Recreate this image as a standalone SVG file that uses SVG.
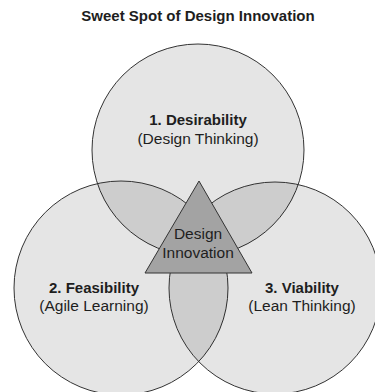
<svg xmlns="http://www.w3.org/2000/svg" width="375" height="392" viewBox="0 0 375 392">
  <style>
    .circle { fill: #000; fill-opacity: 0.1; stroke: #333; stroke-width: 1; }
    .label { font-family: "Liberation Sans", Arial, sans-serif; fill: #1e1e1e; text-anchor: middle; }
    .head { font-weight: bold; font-size: 15px; }
    .sub { font-size: 15.5px; }
  </style>
  <rect width="375" height="392" fill="#fff"/>
  <text class="label" x="198" y="21" style="font-weight:bold;font-size:15px">Sweet Spot of Design Innovation</text>

  <g id="desirability">
    <circle class="circle" cx="198" cy="150" r="106"/>
    <text class="label head" x="198" y="125">1. Desirability</text>
    <text class="label sub" x="198" y="144">(Design Thinking)</text>
  </g>
  <g id="feasibility">
    <circle class="circle" cx="121" cy="288" r="107"/>
    <text class="label head" x="94" y="293">2. Feasibility</text>
    <text class="label sub" x="94" y="311">(Agile Learning)</text>
  </g>
  <g id="viability">
    <circle class="circle" cx="275" cy="288" r="106"/>
    <text class="label head" x="302" y="293">3. Viability</text>
    <text class="label sub" x="302" y="311">(Lean Thinking)</text>
  </g>
  <g id="design-innovation">
    <polygon points="199,181 252,273 145,273" fill="#a3a3a3" stroke="#333" stroke-width="1"/>
    <text class="label sub" x="198" y="239">Design</text>
    <text class="label sub" x="198" y="258">Innovation</text>
  </g>
</svg>
